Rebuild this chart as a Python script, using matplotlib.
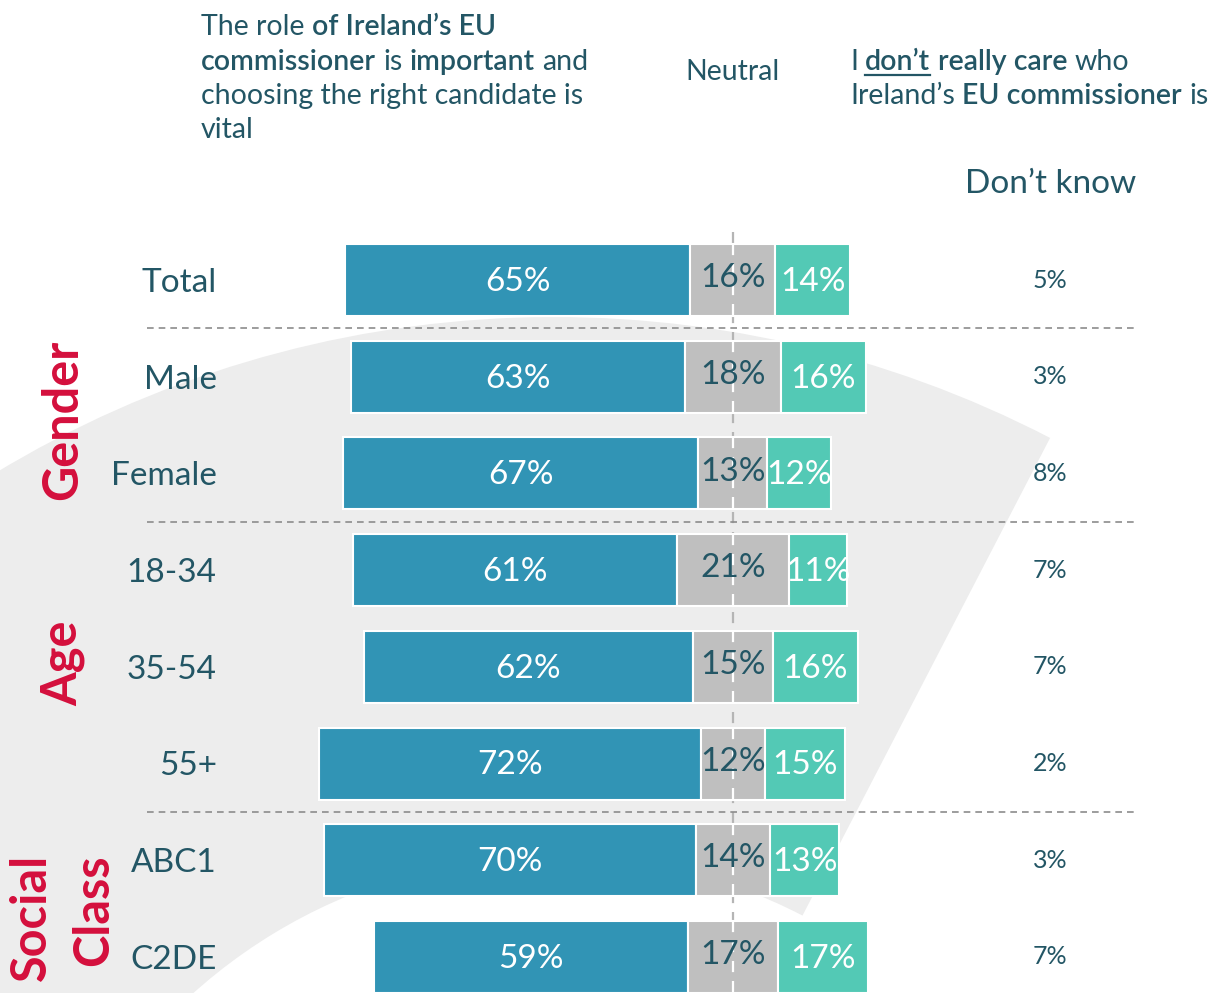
import matplotlib
matplotlib.use("Agg")
from matplotlib import pyplot as plt
from matplotlib.patches import Wedge
import numpy as np

# ---- data ----
groups = ["Total", "Male", "Female", "18-34", "35-54", "55+", "ABC1", "C2DE"]
important = [65, 63, 67, 61, 62, 72, 70, 59]
neutral = [16, 18, 13, 21, 15, 12, 14, 17]
dont_care = [14, 16, 12, 11, 16, 15, 13, 17]
dont_know = [5, 3, 8, 7, 7, 2, 3, 7]
separators = [0.5, 2.5, 5.5]

FONT = "Lato"
LIGHT = "normal"
C_BLUE = "#3194b5"
C_GREY = "#bfbfbf"
C_TEAL = "#53c9b5"
C_TEXT = "#235665"
C_RED = "#d40f3c"
C_BG = "#ededed"

W, H = 1211, 993
fig = plt.figure(figsize=(W / 100, H / 100), dpi=100)

# background layer in pixel coordinates
bg = fig.add_axes([0, 0, 1, 1])
bg.set_xlim(0, W)
bg.set_ylim(H, 0)
bg.axis("off")
bg.add_patch(Wedge((554, 1395), 1078, 180, 297.4, width=538,
                   facecolor=C_BG, edgecolor="none", zorder=0))

# main chart layer: x in percent (0 = middle of neutral), y = row index
ax = fig.add_axes([0, 0, 1, 1])
ax.patch.set_alpha(0)
ax.set_xlim(-138.0, 90.0)
ax.set_ylim(7.373, -2.896)
ax.axis("off")

y = np.arange(len(groups))
imp = np.array(important)
neu = np.array(neutral)
dc = np.array(dont_care)
bh = 0.745

ax.vlines(0, -0.5, 7.373, colors="#b5b5b5", linestyles=(0, (5, 4)), lw=1.6, zorder=1)
ax.barh(y, imp, left=-neu / 2 - imp, height=bh, color=C_BLUE,
        edgecolor="white", linewidth=1.5, zorder=2)
ax.barh(y, neu, left=-neu / 2, height=bh, color=C_GREY,
        edgecolor="white", linewidth=1.5, zorder=2)
ax.barh(y, dc, left=neu / 2, height=bh, color=C_TEAL,
        edgecolor="white", linewidth=1.5, zorder=2)
# white dashes of the centre line over the bars
ax.vlines(np.zeros(len(y)), y - bh / 2, y + bh / 2, colors="white",
          linestyles=(0, (5, 4)), lw=1.6, zorder=3)

ax.hlines(separators, -110.4, 76.3, colors="#8c8c8c",
          linestyles=(0, (4, 3)), lw=1.2, zorder=1)

for i in range(len(groups)):
    ax.text(-neu[i] / 2 - imp[i] / 2, y[i] + 0.02, f"{imp[i]}%", ha="center",
            va="center", color="white", fontsize=24, family=FONT, fontweight=LIGHT, zorder=4)
    ax.text(0, y[i] - 0.02, f"{neu[i]}%", ha="center", va="center",
            color=C_TEXT, fontsize=24, family=FONT, fontweight=LIGHT, zorder=4)
    ax.text(neu[i] / 2 + dc[i] / 2, y[i] + 0.02, f"{dc[i]}%", ha="center",
            va="center", color="white", fontsize=24, family=FONT, fontweight=LIGHT, zorder=4)
    ax.text(59.7, y[i], f"{dont_know[i]}%", ha="center", va="center",
            color=C_TEXT, fontsize=18, family=FONT, zorder=4)
    ax.text(-97.2, y[i] + 0.03, groups[i], ha="right", va="center",
            color=C_TEXT, fontsize=24, family=FONT, fontweight=LIGHT, zorder=4)

# group labels
for txt, gx, gy in [("Gender", 63, 420), ("Age", 63, 663),
                    ("Social", 31, 917), ("Class", 94, 910)]:
    bg.text(gx, gy, txt, rotation=90, ha="center", va="center", color=C_RED,
            fontsize=35, fontweight="bold", family=FONT, zorder=5)

# headers with mixed weights
renderer = fig.canvas.get_renderer()


def text_width(s, weight, size):
    t = bg.text(0, 0, s, fontsize=size, fontweight=weight, family=FONT)
    w = t.get_window_extent(renderer).width
    t.remove()
    return w


def rich_line(x, yb, parts, size):
    sp = text_width("x x", LIGHT, size) - text_width("xx", LIGHT, size)
    for k, (s, bold, under) in enumerate(parts):
        w = "semibold" if bold else LIGHT
        t = bg.text(x, yb, s, fontsize=size, fontweight=w, family=FONT,
                    color=C_TEXT, ha="left", va="baseline")
        tw = t.get_window_extent(renderer).width
        if under:
            bg.plot([x, x + tw], [yb + 5, yb + 5], color=C_TEXT, lw=1.6)
        x += tw + sp


HS = 20.5
rich_line(201, 35, [("The role", 0, 0), ("of Ireland’s EU", 1, 0)], HS)
rich_line(201, 70, [("commissioner", 1, 0), ("is", 0, 0), ("important", 1, 0), ("and", 0, 0)], HS)
rich_line(201, 104, [("choosing the right candidate is", 0, 0)], HS)
rich_line(201, 138, [("vital", 0, 0)], HS)
rich_line(850, 70, [("I", 0, 0), ("don’t", 1, 1), ("really care", 1, 0), ("who", 0, 0)], HS)
rich_line(850, 104, [("Ireland’s", 0, 0), ("EU commissioner", 1, 0), ("is", 0, 0)], HS)
bg.text(733, 80, "Neutral", fontsize=HS, fontweight=LIGHT, family=FONT,
        color=C_TEXT, ha="center", va="baseline")
bg.text(1051, 193, "Don’t know", fontsize=24, fontweight=LIGHT, family=FONT,
        color=C_TEXT, ha="center", va="baseline")

fig.savefig("out.png", dpi=100)
